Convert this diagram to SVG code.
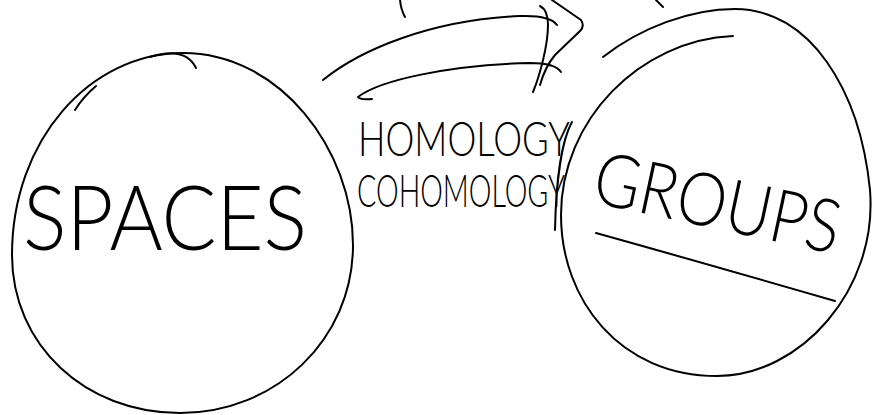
<svg xmlns="http://www.w3.org/2000/svg" width="873" height="415" viewBox="0 0 873 415">
<style>
.s{fill:none;stroke:#000;stroke-width:2;stroke-linecap:round;stroke-linejoin:round}
.t{font-family:Lato,"Liberation Sans",sans-serif;font-weight:300;fill:#000}
</style>
<rect width="873" height="415" fill="#fff"/>
<g id="spaces">
<path class="s" d="M183,53 C280,53 353,150 353,245 C353,340 275,413 180,413 C85,413 12,345 12,255 C12,140 90,53 183,53 Z"/>
<path class="s" d="M75,110 Q83,97 96,86"/>
<path class="s" d="M150,57 Q185,46 196,68"/>
<text class="t" x="23" y="250" font-size="90" textLength="284" lengthAdjust="spacingAndGlyphs">SPACES</text>
</g>
<g id="groups">
<path class="s" d="M603,57 C640,28 690,9 735,9 C810,9 860,90 870,190 C878,290 800,376 717,376 C620,376 561,300 561,215 C561,120 640,40 733,36"/>
<text class="t" x="590" y="202" font-size="74" textLength="250" lengthAdjust="spacingAndGlyphs" transform="rotate(12 590 202)">GROUPS</text>
<path class="s" d="M596,233 Q700,262 835,301"/>
</g>
<g id="connectors">
<path class="s" d="M323,80 C360,50 430,20 520,16 Q550,15 557,25"/>
<path class="s" d="M372,99 Q360,100 358,97 C380,80 450,65 530,63 Q555,63 561,72"/>
<path class="s" d="M540,6 Q548,10 548,25 C548,45 540,75 533,92"/>
<path class="s" d="M552,0 L581,20 Q585,26 580,31 L555,55 Q545,67 540,85"/>
<path class="s" d="M400,0 Q401,10 405,17"/>
<path class="s" d="M656,0 L663,7"/>
<path class="s" d="M572,122 C562,140 556,180 555,230"/>
<text class="t" x="358" y="156" font-size="48" textLength="212" lengthAdjust="spacingAndGlyphs">HOMOLOGY</text>
<text class="t" x="357" y="207" font-size="46" textLength="208" lengthAdjust="spacingAndGlyphs">COHOMOLOGY</text>
</g>
</svg>
